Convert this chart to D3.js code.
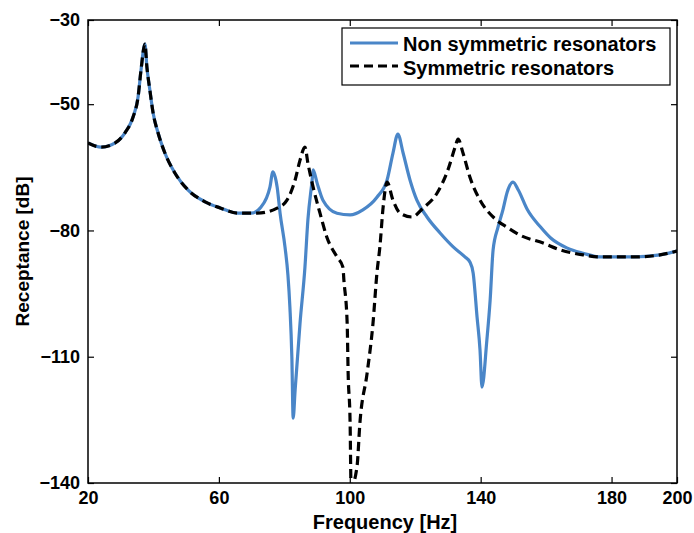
<!DOCTYPE html>
<html>
<head>
<meta charset="utf-8">
<script src="https://cdn.jsdelivr.net/npm/d3@7"></script>
<style>
  body { margin: 0; background: #fff; }
  text { font-family: 'Liberation Sans', Arial, sans-serif; font-weight: bold; }
</style>
</head>
<body>
<div id="vis"></div>
<script>
// frequency [Hz] / receptance [dB]
const freqNonSym = [20, 24.0, 28.3, 31.3, 33.8, 35.3, 36.2, 37.4, 38.0, 38.9, 39.9, 41.4, 43.5, 46.6, 50.6, 55.8, 60.6, 65.8, 69.8,
  72.9, 75.6, 76.5, 77.8, 78.7, 80.2, 81.1, 81.7, 82.3, 82.7, 83.3, 84.8, 86.3, 87.2, 88.5, 88.8, 90.0, 91.8,
  96.1, 100.1, 104.0, 108.3, 111.4, 113.2, 114.7, 116.3, 118.4, 120.5, 123.6, 127.6, 131.6, 135.2, 136.7, 137.7, 138.9,
  139.8, 140.4, 141.9, 142.9, 143.8, 145.3, 146.8, 148.1, 149.9, 151.5, 154.3, 158.3, 161.4, 166.5, 171.3,
  176.5, 186.6, 194.8, 200]
const dbNonSym = [-59.2, -60.2, -59.2, -56.8, -53.0, -48.3, -41.9, -35.7, -41.2, -46.6, -52.1, -56.8, -61.6, -66.4, -70.4, -73.2, -74.7, -75.9, -75.9,
  -74.4, -69.7, -66.1, -69.7, -75.9, -83.9, -90.6, -98.2, -110.1, -124.6, -117.9, -102.0, -88.7, -77.5, -68.0, -65.6, -68.7, -72.8,
  -75.9, -76.3, -75.1, -72.1, -68.0, -61.6, -57.1, -61.6, -68.0, -72.8, -76.8, -80.6, -83.9, -86.3, -87.5, -90.1, -100.6,
  -108.4, -117.2, -106.0, -96.5, -84.6, -79.2, -75.1, -70.9, -68.5, -70.4, -75.1, -79.2, -81.8, -84.2, -85.4,
  -86.3, -86.3, -85.8, -84.9]

const freqSym = [20, 24.0, 28.3, 31.3, 33.8, 35.3, 36.2, 37.4, 38.0, 38.9, 39.9, 41.4, 43.5, 46.6, 50.6, 55.8, 60.6, 65.8, 69.8,
  71.7, 77.8, 80.8, 83.3, 84.8, 86.3, 87.2, 88.8, 90.9, 93.0, 96.1, 97.9, 98.2, 99.2, 99.5, 100.1, 100.4,
  102.2, 103.1, 105.3, 107.1, 108.3, 109.2, 110.2, 111.4, 113.2, 115.4, 119.0, 122.4, 126.7, 130.0, 132.2, 133.1,
  134.6, 136.7, 139.8, 143.8, 148.4, 152.0, 159.1, 164.3, 171.3, 176.5, 186.6, 194.8, 200]
const dbSym = [-59.2, -60.2, -59.2, -56.8, -53.0, -48.3, -41.9, -35.7, -41.2, -46.6, -52.1, -56.8, -61.6, -66.4, -70.4, -73.2, -74.7, -75.9, -75.9,
  -75.9, -74.7, -72.8, -68.0, -63.3, -60.2, -64.0, -69.7, -75.9, -81.6, -86.3, -88.7, -91.8, -102.0, -113.9, -125.7, -141,
  -136.2, -125.7, -113.9, -102.0, -90.1, -83.9, -74.4, -68.5, -72.8, -75.9, -76.8, -74.7, -71.1, -65.6, -60.2, -58.3,
  -61.6, -67.3, -72.8, -76.8, -79.4, -81.1, -83.0, -84.6, -85.8, -86.3, -86.3, -85.8, -84.9]

const xTicks = [20, 60, 100, 140, 180, 200]
const yTicks = [-30, -50, -80, -110, -140]
const seriesNames = ['Non symmetric resonators', 'Symmetric resonators']

const width = 694
const height = 533
const margin = { top: 20, right: 17, bottom: 50, left: 88 }
const chartWidth = width - margin.left - margin.right
const chartHeight = height - margin.top - margin.bottom

const svg = d3.select('#vis').append('svg')
  .attr('width', width).attr('height', height)

const x = d3.scaleLinear().domain([20, 200]).range([0, chartWidth])
const y = d3.scaleLinear().domain([-140, -30]).range([chartHeight, 0])

const g = svg.append('g')
  .attr('transform', `translate(${margin.left},${margin.top})`)

g.append('clipPath').attr('id', 'plot-clip')
  .append('rect').attr('width', chartWidth).attr('height', chartHeight)

const line = d3.line()
  .curve(d3.curveMonotoneX)
  .x((d) => x(d[0]))
  .y((d) => y(d[1]))

const nonSym = d3.zip(freqNonSym, dbNonSym)
const sym = d3.zip(freqSym, dbSym)

g.append('path')
  .attr('d', line(nonSym))
  .attr('fill', 'none')
  .attr('stroke', '#4a86c8')
  .attr('stroke-width', 3.2)
  .attr('stroke-linejoin', 'round')
  .attr('clip-path', 'url(#plot-clip)')

g.append('path')
  .attr('d', line(sym))
  .attr('fill', 'none')
  .attr('stroke', '#000')
  .attr('stroke-width', 3.2)
  .attr('stroke-dasharray', '9,5')
  .attr('clip-path', 'url(#plot-clip)')

// axes, ticks pointing inward on all four sides
const fmtAxis = (sel) => {
  sel.select('.domain').remove()
  sel.selectAll('line').attr('stroke', '#000').attr('stroke-width', 1.2)
  sel.selectAll('text').attr('font-size', 18).attr('fill', '#000')
}

g.append('g')
  .attr('transform', `translate(0,${chartHeight})`)
  .call(d3.axisBottom(x).tickValues(xTicks).tickSize(-6).tickPadding(8))
  .call(fmtAxis)

g.append('g')
  .call(d3.axisTop(x).tickValues(xTicks).tickSize(-6).tickFormat(''))
  .call(fmtAxis)

g.append('g')
  .call(d3.axisLeft(y).tickValues(yTicks).tickSize(-6).tickPadding(8))
  .call(fmtAxis)

g.append('g')
  .attr('transform', `translate(${chartWidth},0)`)
  .call(d3.axisRight(y).tickValues(yTicks).tickSize(-6).tickFormat(''))
  .call(fmtAxis)

g.append('rect')
  .attr('width', chartWidth).attr('height', chartHeight)
  .attr('fill', 'none').attr('stroke', '#000').attr('stroke-width', 1.5)

svg.append('text')
  .attr('x', 385)
  .attr('y', 529)
  .attr('text-anchor', 'middle')
  .attr('font-size', 20)
  .text('Frequency [Hz]')

svg.append('text')
  .attr('transform', `translate(29,${margin.top + chartHeight / 2}) rotate(-90)`)
  .attr('text-anchor', 'middle')
  .attr('font-size', 19)
  .text('Receptance [dB]')

// legend
const legend = svg.append('g')
  .attr('transform', 'translate(342,28)')

legend.append('rect')
  .attr('width', 328).attr('height', 57)
  .attr('fill', '#fff').attr('stroke', '#000').attr('stroke-width', 1.2)

legend.append('line')
  .attr('x1', 8).attr('x2', 56).attr('y1', 15).attr('y2', 15)
  .attr('stroke', '#4a86c8').attr('stroke-width', 3.2)
legend.append('text')
  .attr('x', 61).attr('y', 23)
  .attr('font-size', 20)
  .text(seriesNames[0])

legend.append('line')
  .attr('x1', 8).attr('x2', 56).attr('y1', 38).attr('y2', 38)
  .attr('stroke', '#000').attr('stroke-width', 3.2)
  .attr('stroke-dasharray', '9,5')
legend.append('text')
  .attr('x', 61).attr('y', 47)
  .attr('font-size', 20)
  .text(seriesNames[1])
</script>
</body>
</html>
